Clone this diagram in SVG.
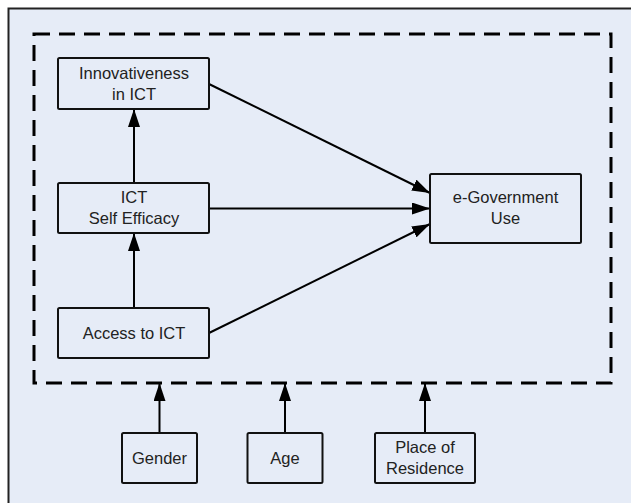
<svg xmlns="http://www.w3.org/2000/svg" width="631" height="503" viewBox="0 0 631 503">
<style>
.box{fill:none;stroke:#111;stroke-width:2}
.lbl{font-family:"Liberation Sans",Arial,sans-serif;font-size:16.5px;fill:#222;text-anchor:middle}
.edge{stroke:#000;stroke-width:2;fill:none;marker-end:url(#ah)}
</style>
<defs>
<marker id="ah" markerWidth="18" markerHeight="12" refX="18" refY="6" orient="auto" markerUnits="userSpaceOnUse">
<path d="M0,0 L18,6 L0,12 Z" fill="#000"/>
</marker>
</defs>
<rect x="0" y="0" width="631" height="503" fill="#fff"/>
<rect x="8.5" y="8.5" width="640" height="520" fill="#E6ECF7" stroke="#222" stroke-width="2"/>
<rect id="boundary" x="34" y="34" width="577" height="349" fill="none" stroke="#000" stroke-width="3" stroke-dasharray="16 9"/>
<g id="connectors">
<line class="edge" x1="134" y1="308" x2="134" y2="233"/>
<line class="edge" x1="134" y1="183" x2="134" y2="109"/>
<line class="edge" x1="209" y1="84" x2="430" y2="193"/>
<line class="edge" x1="209" y1="208.5" x2="430" y2="208.5"/>
<line class="edge" x1="209" y1="333" x2="430" y2="224"/>
<line class="edge" x1="159.5" y1="433" x2="159.5" y2="383"/>
<line class="edge" x1="285" y1="433" x2="285" y2="383"/>
<line class="edge" x1="425" y1="433" x2="425" y2="383"/>
</g>
<g id="innovativeness">
<rect class="box" x="58" y="58" width="151" height="51" rx="1.5"/>
<text class="lbl" x="134" y="79">Innovativeness</text>
<text class="lbl" x="134" y="100">in ICT</text>
</g>
<g id="selfefficacy">
<rect class="box" x="58" y="183" width="151" height="50" rx="1.5"/>
<text class="lbl" x="134" y="203">ICT</text>
<text class="lbl" x="134" y="224">Self Efficacy</text>
</g>
<g id="access">
<rect class="box" x="58" y="308" width="151" height="50" rx="1.5"/>
<text class="lbl" x="134" y="338.5">Access to ICT</text>
</g>
<g id="egov">
<rect class="box" x="430" y="174" width="151" height="69" rx="1.5"/>
<text class="lbl" x="505.5" y="203">e-Government</text>
<text class="lbl" x="505.5" y="224">Use</text>
</g>
<g id="gender">
<rect class="box" x="122" y="433" width="75" height="50" rx="1.5"/>
<text class="lbl" x="159.5" y="463.5">Gender</text>
</g>
<g id="age">
<rect class="box" x="247.5" y="433" width="75" height="50" rx="1.5"/>
<text class="lbl" x="285" y="463.5">Age</text>
</g>
<g id="residence">
<rect class="box" x="375" y="433" width="100" height="50" rx="1.5"/>
<text class="lbl" x="425" y="453">Place of</text>
<text class="lbl" x="425" y="473.5">Residence</text>
</g>
</svg>
